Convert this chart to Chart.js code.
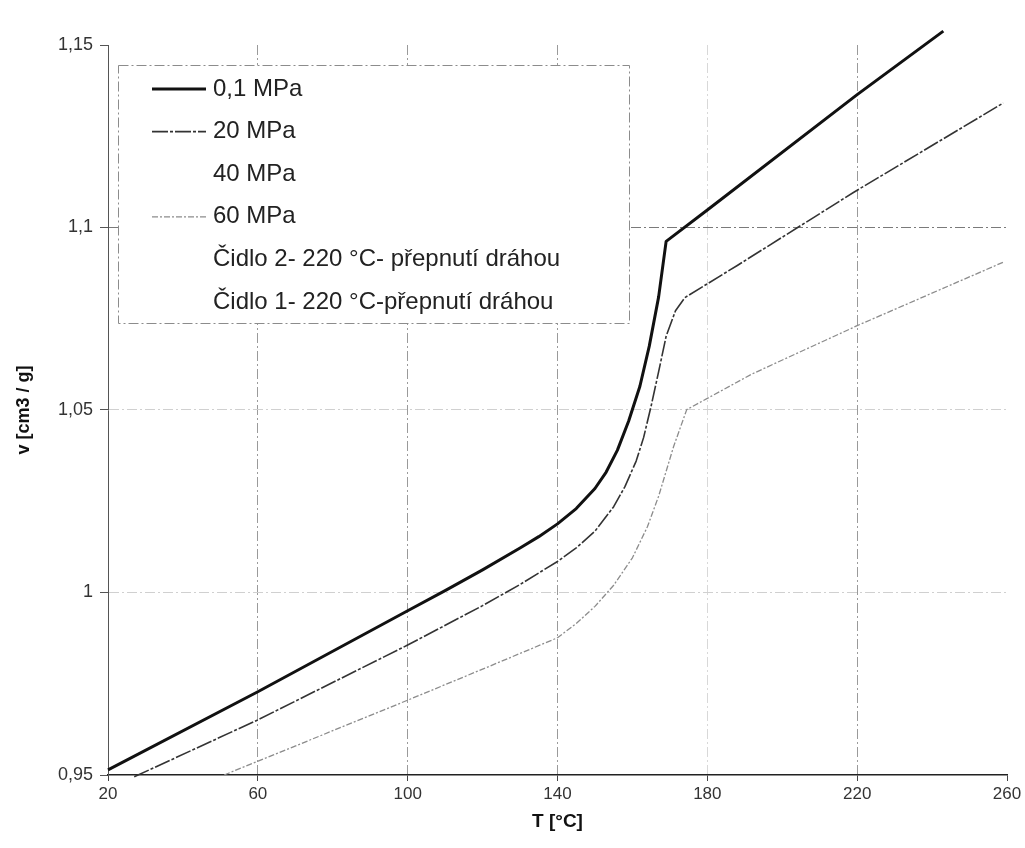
<!DOCTYPE html>
<html lang="cs">
<head>
    <meta charset="UTF-8">
    <title>Měrný objem v závislosti na teplotě</title>
    <script src="https://cdn.jsdelivr.net/npm/chart.js"></script>
    <style>
        body, html {
            margin: 0;
            padding: 0;
            width: 100%;
            height: 100%;
            overflow: hidden;
            background: #fff;
        }
        #wrap {
            width: 1025px;
            height: 848px;
        }
    </style>
</head>
<body>
<div id="wrap"><canvas id="pvtChart"></canvas></div>

<script>
    const seriesNames = [
        '0,1 MPa',
        '20 MPa',
        '40 MPa',
        '60 MPa',
        'Čidlo 2- 220 °C- přepnutí dráhou',
        'Čidlo 1- 220 °C-přepnutí dráhou'
    ];

    // T [°C] / v [cm3/g]
    const temp01 = [20, 60, 100, 110, 120, 130, 135, 140, 145, 150, 153, 156, 159, 162, 164.5, 167, 169, 180, 220, 243];
    const vol01 = [0.9514, 0.9728, 0.9950, 1.0005, 1.0062, 1.0122, 1.0153, 1.0188, 1.0230, 1.0285, 1.0330, 1.0390, 1.0470, 1.0565, 1.0675, 1.0810, 1.0962, 1.1048, 1.1364, 1.1538];

    const temp20 = [27, 60, 100, 120, 130, 140, 145, 150, 155, 158, 161, 163, 165, 167, 169, 171.5, 174, 188, 219, 259];
    const vol20 = [0.9495, 0.9651, 0.9856, 0.9964, 1.0022, 1.0085, 1.0122, 1.0168, 1.0235, 1.0290, 1.0360, 1.0425, 1.0511, 1.0605, 1.0702, 1.0772, 1.0808, 1.0896, 1.1096, 1.1341];

    const temp40 = [];
    const vol40 = [];

    const temp60 = [51, 100, 120, 140, 145, 150, 155, 160, 164, 167, 171, 174.5, 192, 220, 259];
    const vol60 = [0.9500, 0.9705, 0.9790, 0.9876, 0.9915, 0.9962, 1.0020, 1.0095, 1.0180, 1.0264, 1.0400, 1.0501, 1.0599, 1.0731, 1.0905];

    const tempCidlo2 = [];
    const volCidlo2 = [];
    const tempCidlo1 = [];
    const volCidlo1 = [];

    const xTicks = [20, 60, 100, 140, 180, 220, 260];
    const yTicks = [0.95, 1, 1.05, 1.1, 1.15];

    const toPoints = (t, v) => t.map((x, i) => ({ x: x, y: v[i] }));
    const decComma = v => String(+v.toFixed(2)).replace('.', ',');

    // legend framed inside the plot, painted over the grid
    const legendBox = {
        id: 'legendBox',
        beforeDatasetsDraw(chart) {
            const ctx = chart.ctx;
            const area = chart.chartArea;
            const x0 = area.left + 10, y0 = area.top + 20, w = 511, h = 258;
            ctx.save();
            ctx.fillStyle = '#fff';
            ctx.fillRect(x0, y0, w, h);
            ctx.strokeStyle = '#8c8c8c';
            ctx.lineWidth = 1;
            ctx.setLineDash([10, 3, 2, 3]);
            ctx.strokeRect(x0 + 0.5, y0 + 0.5, w, h);
            ctx.font = '24px "Liberation Sans", Arial, sans-serif';
            ctx.textBaseline = 'middle';
            chart.data.datasets.forEach((ds, i) => {
                const y = y0 + 24 + i * 42.6;
                ctx.setLineDash(ds.borderDash || []);
                ctx.strokeStyle = ds.borderColor;
                ctx.lineWidth = ds.borderWidth;
                ctx.beginPath();
                ctx.moveTo(x0 + 34, y);
                ctx.lineTo(x0 + 88, y);
                ctx.stroke();
                ctx.setLineDash([]);
                ctx.fillStyle = '#222';
                ctx.fillText(ds.label, x0 + 95, y);
            });
            ctx.restore();
        }
    };

    const gridX = c => {
        const v = c.tick ? c.tick.value : null;
        if (v === 260 || v === 20) return 'rgba(0,0,0,0)';
        return v === 180 ? '#d8d8d8' : '#9a9a9a';
    };
    const gridY = c => {
        const v = c.tick ? c.tick.value : null;
        if (v >= 1.149 || v <= 0.951) return 'rgba(0,0,0,0)';
        return v > 1.09 ? '#7a7a7a' : '#d0d0d0';
    };

    const ctx = document.getElementById('pvtChart').getContext('2d');
    new Chart(ctx, {
        type: 'line',
        data: {
            datasets: [
                {
                    label: seriesNames[0],
                    data: toPoints(temp01, vol01),
                    borderColor: '#111',
                    borderWidth: 3
                },
                {
                    label: seriesNames[1],
                    data: toPoints(temp20, vol20),
                    borderColor: '#333',
                    borderWidth: 1.6,
                    borderDash: [16, 2, 3, 2]
                },
                {
                    label: seriesNames[2],
                    data: toPoints(temp40, vol40),
                    borderColor: 'rgba(0,0,0,0)',
                    borderWidth: 1.5
                },
                {
                    label: seriesNames[3],
                    data: toPoints(temp60, vol60),
                    borderColor: '#8c8c8c',
                    borderWidth: 1.3,
                    borderDash: [6, 2, 2, 2]
                },
                {
                    label: seriesNames[4],
                    data: toPoints(tempCidlo2, volCidlo2),
                    borderColor: 'rgba(0,0,0,0)',
                    borderWidth: 1.5
                },
                {
                    label: seriesNames[5],
                    data: toPoints(tempCidlo1, volCidlo1),
                    borderColor: 'rgba(0,0,0,0)',
                    borderWidth: 1.5
                }
            ]
        },
        options: {
            responsive: true,
            maintainAspectRatio: false,
            animation: false,
            clip: false,
            layout: { padding: { left: 0, right: 18, top: 45, bottom: 0 } },
            elements: {
                point: { radius: 0 },
                line: { tension: 0, fill: false, borderJoinStyle: 'round' }
            },
            scales: {
                x: {
                    type: 'linear',
                    min: xTicks[0],
                    max: xTicks[xTicks.length - 1],
                    afterBuildTicks: s => { s.ticks = xTicks.map(v => ({ value: v })); },
                    afterFit: s => { s.height = 73; },
                    border: { color: '#222', width: 1.5, dash: [10, 3, 2, 3] },
                    grid: {
                        color: gridX,
                        tickColor: '#444',
                        tickLength: 6
                    },
                    ticks: {
                        padding: 3,
                        color: '#333',
                        font: { family: '"Liberation Sans", Arial, sans-serif', size: 17 }
                    },
                    title: {
                        display: true,
                        text: 'T [°C]',
                        color: '#111',
                        font: { family: '"Liberation Sans", Arial, sans-serif', size: 19, weight: 'bold' },
                        padding: { top: 4, bottom: 15 }
                    }
                },
                y: {
                    type: 'linear',
                    min: yTicks[0],
                    max: yTicks[yTicks.length - 1],
                    afterBuildTicks: s => { s.ticks = yTicks.map(v => ({ value: v })); },
                    afterFit: s => { s.width = 108; },
                    border: { color: '#555', width: 1, dash: [10, 3, 2, 3] },
                    grid: {
                        color: gridY,
                        tickColor: '#555',
                        tickLength: 8
                    },
                    ticks: {
                        padding: 7,
                        color: '#333',
                        font: { family: '"Liberation Sans", Arial, sans-serif', size: 18 },
                        callback: v => decComma(v)
                    },
                    title: {
                        display: true,
                        text: 'v [cm3 / g]',
                        color: '#111',
                        font: { family: '"Liberation Sans", Arial, sans-serif', size: 18, weight: 'bold' },
                        padding: { top: 13, bottom: 4 }
                    }
                }
            },
            plugins: {
                legend: { display: false },
                tooltip: { enabled: false }
            }
        },
        plugins: [legendBox]
    });
</script>
</body>
</html>
